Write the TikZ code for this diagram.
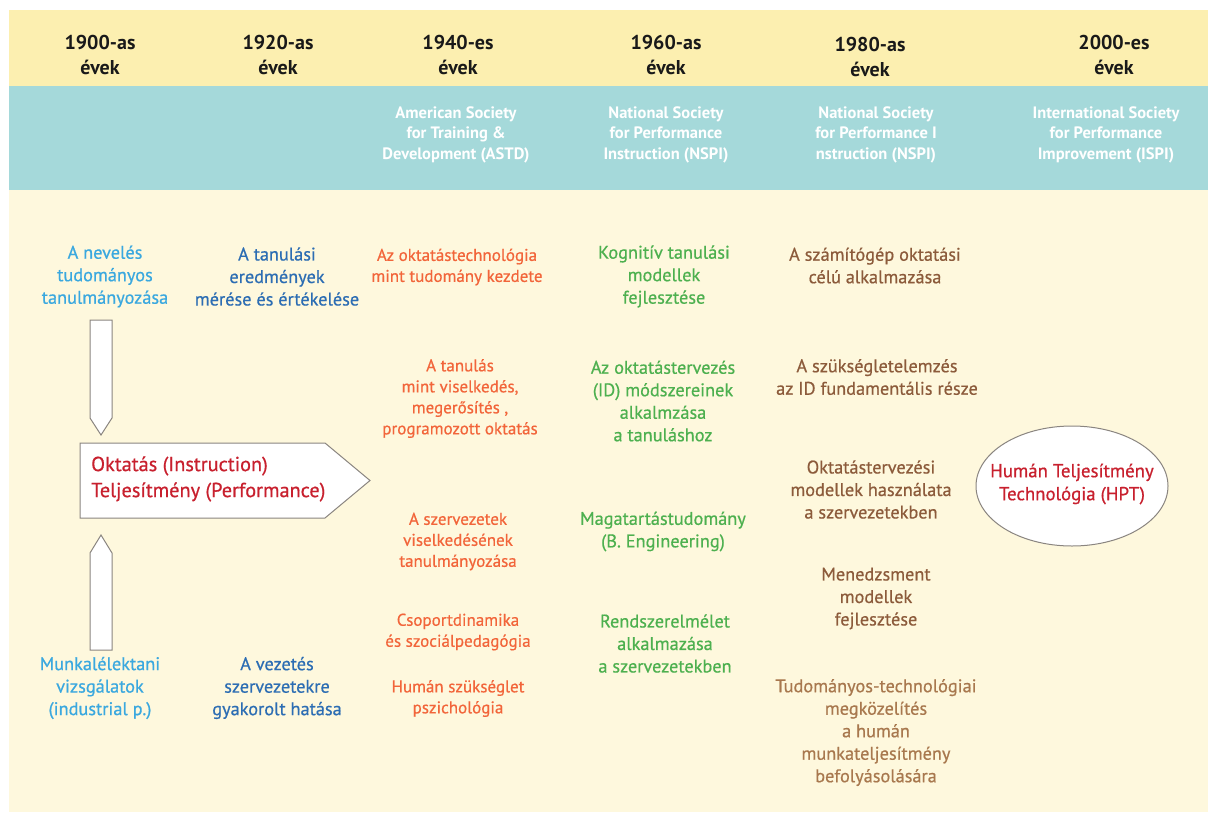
\documentclass[tikz,border=0pt]{standalone}
\usepackage{fontspec}
\setmainfont{PT Sans}
\newfontfamily\semib[FakeBold=0.6]{PT Sans}
\usetikzlibrary{shapes.geometric}
\definecolor{hdrY}{HTML}{FCEFB0}
\definecolor{tealB}{HTML}{A5D9DA}
\definecolor{bodyY}{HTML}{FEF8DD}
\definecolor{lblue}{HTML}{3AA8DF}
\definecolor{dblue}{HTML}{2C6DB3}
\definecolor{orng}{HTML}{F2653A}
\definecolor{grn}{HTML}{4DB04F}
\definecolor{brwn}{HTML}{8C5B3B}
\definecolor{lbrwn}{HTML}{A8784E}
\definecolor{redT}{HTML}{C8202E}
\definecolor{edge}{HTML}{8A8580}
\begin{document}
\begin{tikzpicture}[x=1pt,y=-1pt,
  hdr/.style={font=\bfseries\fontsize{20}{25}\selectfont, align=center, text=black!90, inner sep=0},
  org/.style={font=\bfseries\fontsize{16.5}{20.5}\selectfont, text=white, align=center, inner sep=0},
  body/.style={font=\semib\fontsize{18.3}{22.5}\selectfont, align=center, inner sep=0},
  bodys/.style={font=\semib\fontsize{17}{21}\selectfont, align=center, inner sep=0},
  blockarrow/.style={draw=edge, fill=white, line width=1pt, line join=miter}]
\useasboundingbox (0,0) rectangle (1208,812);
% background bands
\fill[bodyY] (9,190) rectangle (1208,812);
\fill[hdrY] (9,10) rectangle (1208,86);
\fill[tealB] (9,86) rectangle (1208,190);
% headers
\node[hdr] (h1) at (100,54.5) {1900-as\\évek};
\node[hdr] (h2) at (278,54.5) {1920-as\\évek};
\node[hdr] (h3) at (458,54.5) {1940-es\\évek};
\node[hdr] (h4) at (666,54.5) {1960-as\\évek};
\node[hdr] (h5) at (870,56.5) {1980-as\\évek};
\node[hdr] (h6) at (1114,54.5) {2000-es\\évek};
% organisations
\node[org] (o3) at (456,134.5) {American Society\\for Training \&\\Development (ASTD)};
\node[org] (o4) at (666,134.5) {National Society\\for Performance\\Instruction (NSPI)};
\node[org] (o5) at (876,134.5) {National Society\\for Performance I\\nstruction (NSPI)};
\node[org] (o6) at (1106,134.5) {International Society\\for Performance\\Improvement (ISPI)};
% block arrows
\draw[blockarrow] (90,320) -- (112,320) -- (112,418) -- (101,435) -- (90,418) -- cycle;
\draw[blockarrow] (90,650) -- (112,650) -- (112,553) -- (101,535) -- (90,553) -- cycle;
\draw[blockarrow] (80,443) -- (325,443) -- (370,480.5) -- (325,518) -- (80,518) -- cycle;
\node[font=\semib\fontsize{20.3}{26}\selectfont, text=redT, align=left, inner sep=0, anchor=west] (okt) at (91,479) {Oktatás (Instruction)\\Teljesítmény (Performance)};
% column 1
\node[body, text=lblue] (c1a) at (105,276.5) {A nevelés\\tudományos\\tanulmányozása};
\node[body, text=lblue] (c1b) at (100,688) {Munkalélektani\\vizsgálatok\\(industrial p.)};
% column 2
\node[body, text=dblue] (c2a) at (277,276.5) {A tanulási\\eredmények\\mérése és értékelése};
\node[body, text=dblue] (c2b) at (277,688) {A vezetés\\szervezetekre\\gyakorolt hatása};
% column 3
\node[bodys, text=orng] (c3a) at (457,267) {Az oktatástechnológia\\mint tudomány kezdete};
\node[bodys, text=orng] (c3b) at (460,398.5) {A tanulás\\mint viselkedés,\\megerősítés ,\\programozott oktatás};
\node[bodys, text=orng] (c3c) at (458,541.5) {A szervezetek\\viselkedésének\\tanulmányozása};
\node[bodys, text=orng] (c3d) at (458,632) {Csoportdinamika\\és szociálpedagógia};
\node[bodys, text=orng] (c3e) at (458,698.5) {Humán szükséglet\\pszichológia};
% column 4
\node[body, text=grn] (c4a) at (664,276.5) {Kognitív tanulási\\modellek\\fejlesztése};
\node[body, text=grn] (c4b) at (663,401) {Az oktatástervezés\\(ID) módszereinek\\alkalmzása\\a tanuláshoz};
\node[body, text=grn] (c4c) at (663,531.5) {Magatartástudomány\\(B. Engineering)};
\node[body, text=grn] (c4d) at (665,643.5) {Rendszerelmélet\\alkalmazása\\a szervezetekben};
% column 5
\node[body, text=brwn] (c5a) at (875,265.5) {A számítógép oktatási\\célú alkalmazása};
\node[body, text=brwn] (c5b) at (877,377) {A szükségletelemzés\\az ID fundamentális része};
\node[body, text=brwn] (c5c) at (871,489.5) {Oktatástervezési\\modellek használata\\a szervezetekben};
\node[body, text=brwn] (c5d) at (876,598.5) {Menedzsment\\modellek\\fejlesztése};
\node[body, text=lbrwn] (c5e) at (876,732.5) {Tudományos-technológiai\\megközelítés\\a humán\\munkateljesítmény\\befolyásolására};
% HPT ellipse
\node[ellipse, draw=edge, fill=white, line width=1pt, minimum width=192pt, minimum height=120pt, inner sep=0] (hpt) at (1072,486) {};
\node[font=\semib\fontsize{18.8}{23}\selectfont, text=redT, align=center, inner sep=0] (hptt) at (1072,484) {Humán Teljesítmény\\Technológia (HPT)};
\end{tikzpicture}
\end{document}
